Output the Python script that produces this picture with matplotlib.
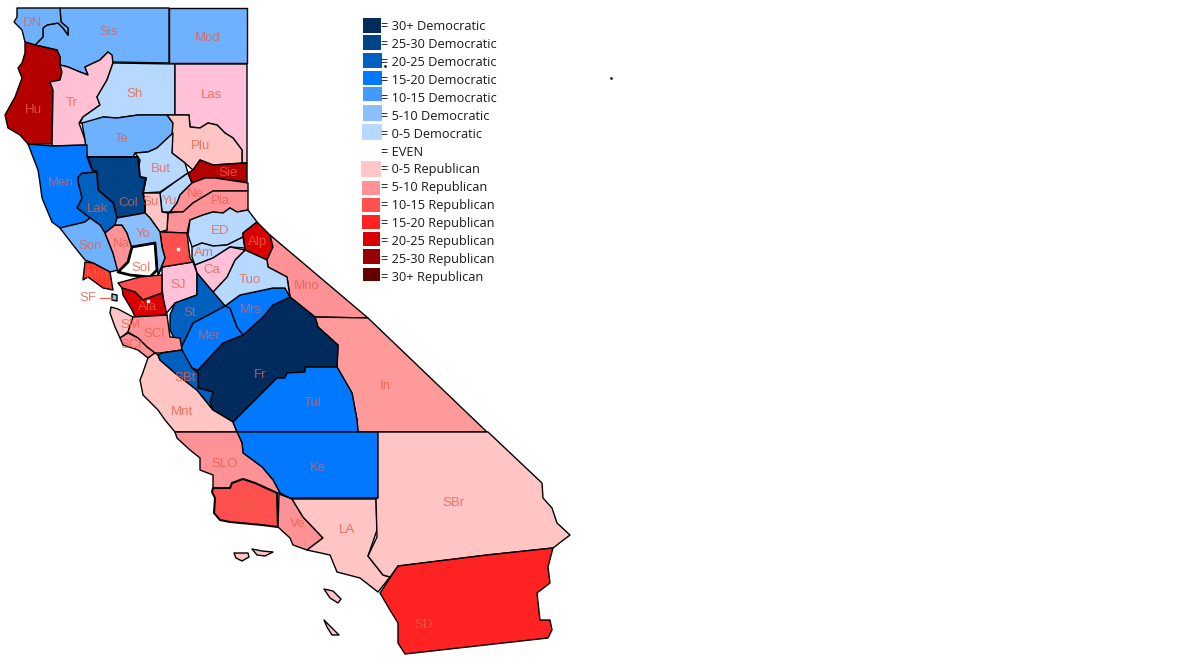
import matplotlib
matplotlib.use("Agg")
import matplotlib.pyplot as plt
from matplotlib.patches import Polygon, Rectangle

LEGEND_LABELS = ["30+ Democratic", "25-30 Democratic", "20-25 Democratic", "15-20 Democratic",
                 "10-15 Democratic", "5-10 Democratic", "0-5 Democratic", "EVEN",
                 "0-5 Republican", "5-10 Republican", "10-15 Republican", "15-20 Republican",
                 "20-25 Republican", "25-30 Republican", "30+ Republican"]
LEGEND_COLORS = ["#002b5c", "#004488", "#0060c0", "#0078ff", "#4499ff", "#8cbfff", "#b8d9ff", "#ffffff",
                 "#ffc8c8", "#ff9296", "#ff5050", "#ff2222", "#d80000", "#960000", "#640000"]
LEGEND_TOPS = [18, 35, 53, 71, 87, 105, 124, None, 161, 181, 198, 215, 232, 249, 268]
LEGEND_LEFTS = [363, 363, 363, 363, 363, 363, 362, None, 361, 362, 362, 362, 363, 363, 363]
LEGEND_RIGHTS = [381, 381, 382, 382, 382, 382, 382, None, 381, 380, 380, 380, 380, 380, 380]
LEGEND_BOTTOMS = [33, 50, 68, 85, 101, 121, 140, None, 177, 195, 212, 229, 246, 264, 281]

# County outlines: (name, shade, outline)
COUNTIES = [
    ("Mod", "#6db1ff", [(169,8),(247,8),(247,63),(169,63)]),
    ("Sis", "#6db1ff", [(60,8),(169,8),(169,63),(113,62),(108,52),(100,60),(85,67),(88,75),(80,72),(68,67),(60,65),(60,57),(57,50),(35,45),(43,37),(43,28),(47,25),(58,23),(63,28),(68,35),(68,28),(61,22)]),
    ("DN", "#6db1ff", [(17,8),(60,8),(61,22),(68,28),(68,35),(63,28),(58,23),(47,25),(43,28),(43,37),(35,45),(25,42),(22,30),(14,22),(17,17)]),
    ("Hu", "#b50000", [(25,42),(35,45),(57,50),(60,57),(60,65),(62,72),(60,80),(50,82),(53,90),(52,144),(28,144),(20,135),(8,128),(5,115),(15,97),(22,78),(18,68),(22,63),(25,53)]),
    ("Tr", "#ffc0d4", [(60,65),(68,67),(80,72),(88,75),(85,67),(100,60),(108,52),(112,55),(113,63),(107,80),(97,97),(100,105),(83,117),(79,123),(87,145),(52,146),(53,90),(50,82),(60,80),(62,72)]),
    ("Sh", "#b8d9ff", [(113,63),(175,64),(175,115),(138,115),(117,118),(103,117),(87,123),(80,123),(83,117),(100,105),(97,97),(107,80)]),
    ("Las", "#ffc0d8", [(175,64),(247,64),(247,163),(242,163),(242,150),(233,138),(225,133),(217,125),(208,123),(200,128),(190,127),(189,115),(175,115)]),
    ("Te", "#6db1ff", [(82,123),(103,117),(117,118),(138,115),(167,115),(173,123),(173,133),(157,148),(148,152),(135,153),(133,157),(87,157),(85,140)]),
    ("Plu", "#ffc4c4", [(167,115),(189,115),(190,127),(200,128),(208,123),(217,125),(225,133),(233,138),(242,150),(242,163),(213,165),(200,160),(193,170),(185,163),(172,153),(172,135),(173,123)]),
    ("But", "#b8d9ff", [(135,153),(148,152),(157,148),(173,133),(172,153),(185,163),(188,173),(175,182),(160,192),(143,193),(146,178),(140,177),(138,173),(140,160)]),
    ("Yu", "#b8d9ff", [(160,193),(175,182),(188,173),(192,183),(180,195),(177,203),(170,212),(162,212)]),
    ("Sie", "#b50000", [(200,160),(213,165),(247,163),(247,182),(215,178),(205,178),(192,183),(188,173),(193,170)]),
    ("Ne", "#ff9296", [(192,183),(205,178),(215,178),(248,183),(248,191),(213,191),(203,197),(193,203),(183,212),(178,212),(170,212),(177,203),(180,195)]),
    ("Pla", "#ff9296", [(248,191),(248,210),(237,212),(230,208),(223,213),(213,212),(203,215),(190,220),(187,233),(160,232),(167,230),(168,213),(178,212),(183,212),(193,203),(203,197),(213,191)]),
    ("ED", "#b8d9ff", [(190,220),(203,215),(213,212),(223,213),(230,208),(237,212),(248,210),(257,222),(243,233),(243,237),(227,245),(213,246),(202,243),(192,247),(188,235)]),
    ("Am", "#b8d9ff", [(192,247),(202,243),(213,246),(227,245),(243,237),(245,248),(230,247),(213,258),(195,265),(192,257)]),
    ("Alp", "#d80000", [(257,222),(270,235),(273,247),(267,260),(245,250),(243,233)]),
    ("Mno", "#ff9296", [(270,235),(368,318),(315,317),(300,305),(290,297),(287,277),(268,267),(267,260),(273,247)]),
    ("In", "#ff9a9a", [(315,317),(368,318),(487,432),(358,432),(357,420),(352,393),(337,367),(338,345),(318,327)]),
    ("Fr", "#002b5c", [(290,297),(300,305),(315,317),(318,327),(338,345),(337,367),(305,367),(305,372),(287,373),(285,378),(277,378),(233,422),(213,410),(210,402),(213,392),(198,388),(198,373),(192,368),(198,370),(223,343),(243,335),(263,317),(273,305)]),
    ("Mer", "#0078ff", [(180,350),(193,323),(225,306),(230,308),(237,327),(243,335),(223,343),(198,370),(192,368)]),
    ("Mrs", "#0078ff", [(225,306),(240,295),(273,288),(285,288),(290,297),(273,305),(263,317),(243,335),(237,327),(230,308)]),
    ("Tuo", "#b8d9ff", [(245,250),(267,260),(268,267),(287,277),(290,297),(285,288),(273,288),(240,295),(225,306),(213,292),(227,277),(235,260)]),
    ("Ca", "#ffc0d8", [(195,265),(213,258),(230,247),(245,250),(235,260),(227,277),(213,292),(197,273)]),
    ("SJ", "#ffc0d8", [(162,267),(193,262),(197,273),(197,295),(175,303),(165,315),(162,287)]),
    ("St", "#0060c0", [(197,273),(213,292),(225,306),(193,323),(180,350),(170,330),(170,315),(175,303),(197,295)]),
    ("Sac", "#ff5050", [(160,232),(187,233),(190,258),(193,262),(162,267),(158,275),(165,258),(162,247)]),
    ("Su", "#ffc4c4", [(143,193),(160,193),(162,212),(168,213),(167,230),(160,232),(150,218),(145,213),(145,203)]),
    ("Col", "#004488", [(88,157),(133,157),(138,157),(140,177),(146,178),(143,193),(145,203),(145,213),(117,218),(113,203),(98,190),(97,175),(97,172),(92,170)]),
    ("Lak", "#0060c0", [(78,177),(82,173),(97,172),(97,175),(98,190),(113,203),(117,218),(115,225),(105,233),(100,225),(90,218),(77,208),(82,198),(78,182)]),
    ("Men", "#0078ff", [(28,144),(52,146),(87,145),(87,157),(92,170),(97,172),(82,173),(78,177),(78,182),(82,198),(77,208),(90,218),(85,222),(60,228),(52,222),(42,198),(40,183),(38,170)]),
    ("Son", "#6db1ff", [(60,228),(85,222),(90,218),(100,225),(105,233),(113,253),(118,270),(110,272),(93,263),(85,260),(73,245)]),
    ("Na", "#ff9296", [(105,233),(115,225),(122,225),(127,233),(132,248),(128,262),(118,272),(113,253)]),
    ("Yo", "#8cbfff", [(115,225),(117,218),(145,213),(150,218),(160,232),(162,247),(165,258),(158,275),(155,243),(132,248),(127,233),(122,225)]),
    ("Sol", "#ffffff", [(132,247),(155,243),(157,270),(150,277),(130,275),(118,272),(128,262)]),
    ("Mrn", "#ff3b30", [(85,262),(93,263),(110,272),(113,290),(103,288),(88,277),(83,280)]),
    ("CC", "#ff5050", [(118,283),(140,277),(162,275),(162,293),(143,300),(135,292),(122,288)]),
    ("Ala", "#d80000", [(122,288),(135,292),(143,300),(162,293),(167,315),(135,317),(132,310),(123,295)]),
    ("SF", "#8cbfff", [(112,294),(117,295),(117,301),(112,300)]),
    ("SM", "#ffc4c4", [(111,307),(118,309),(133,317),(128,332),(120,338),(115,327),(110,313)]),
    ("SCl", "#ff9296", [(133,317),(167,315),(170,337),(180,338),(182,350),(160,353),(155,353),(147,347),(138,338),(128,332)]),
    ("SCr", "#ff9296", [(120,338),(128,333),(138,338),(147,347),(155,353),(148,358),(138,350),(123,345)]),
    ("Mnt", "#ffc4c4", [(148,358),(155,353),(158,355),(160,360),(175,373),(197,390),(213,410),(233,422),(237,432),(175,432),(165,420),(158,410),(143,395),(140,380),(142,375)]),
    ("SBt", "#0060c0", [(158,355),(162,353),(182,350),(192,368),(198,373),(198,388),(213,392),(210,402),(213,410),(197,390),(175,373),(160,360)]),
    ("Tul", "#0078ff", [(337,367),(352,393),(357,420),(358,432),(237,432),(233,422),(277,378),(285,378),(287,373),(305,372),(305,367)]),
    ("Ke", "#0078ff", [(237,432),(378,432),(378,498),(290,498),(280,493),(273,480),(262,467),(243,453),(242,443)]),
    ("SLO", "#ff9296", [(175,432),(237,432),(242,443),(243,453),(262,467),(273,480),(280,493),(277,493),(255,483),(243,479),(232,483),(230,488),(213,488),(213,475),(200,470),(200,458),(190,450),(177,438)]),
    ("SB", "#ff5050", [(213,488),(230,488),(232,483),(243,479),(255,483),(277,493),(278,527),(262,525),(230,522),(220,520),(214,513),(215,498),(212,492)]),
    ("Ve", "#ff9296", [(279,494),(292,499),(303,517),(323,538),(307,550),(293,545),(290,538),(278,527)]),
    ("LA", "#ffc4c4", [(292,499),(376,499),(377,530),(368,556),(383,575),(390,577),(378,592),(360,578),(337,572),(330,555),(307,550),(323,538),(303,517)]),
    ("SBr", "#ffc4c4", [(378,432),(488,432),(542,483),(543,498),(552,508),(557,523),(570,535),(553,548),(487,555),(398,566),(390,577),(383,575),(368,556),(377,537),(376,499),(378,498)]),
    ("SD", "#ff2222", [(398,566),(487,555),(553,548),(548,567),(550,583),(537,593),(540,620),(550,620),(552,630),(548,638),(405,654),(398,643),(398,623),(390,610),(380,593)]),
    ("Isl1", "#ffc4c4", [(234,553),(248,553),(249,557),(242,561),(236,558)]),
    ("Isl2", "#ffc4c4", [(252,549),(262,551),(273,552),(265,556),(257,555)]),
    ("Isl3", "#ffc4c4", [(324,589),(333,591),(341,599),(338,603),(330,598)]),
    ("Isl4", "#ffc4c4", [(324,620),(339,635),(332,635),(327,627)]),
]

LABEL_TEXT = ["DN","Sis","Mod","Hu","Tr","Sh","Las","Te","Plu","Sie","But","Men","Col","Su","Yu","Ne","Pla","Lak","ED","Yo","Son","Na","Alp","Am","Sol","Ca","Tuo","Mno","SJ","Mrn","SF","Ala","St","Mrs","Mer","SM","SCl","SCr","SBt","Fr","In","Tul","Mnt","SLO","Ke","SB","SBr","Ve","LA","SD"]
LABEL_X = [33,109,208,33,72,135,212,122,201,228,161,61,128,151,169,195,220,98,220,143,90,121,258,204,141,212,250,307,178,97,88,148,190,251,209,130,154,132,185,260,385,313,182,225,318,244,453,298,347,424]
LABEL_Y = [23,32,38,110,103,94,95,139,146,173,169,183,203,202,201,194,201,209,231,234,246,244,242,253,268,270,280,286,285,275,298,307,313,310,336,325,334,345,378,375,386,403,412,464,468,506,503,524,530,625]
THICK = {"Sol": 2.0, "SB": 1.5, "Col": 1.4}

fig = plt.figure(figsize=(11.88, 6.68), dpi=100, facecolor="white")
ax = fig.add_axes([0, 0, 1, 1])
ax.set_xlim(0, 1188)
ax.set_ylim(668, 0)
ax.axis("off")

for name, shade, outline in COUNTIES:
    ax.add_patch(Polygon(outline, closed=True, facecolor=shade, edgecolor="black",
                         linewidth=THICK.get(name, 1.0), joinstyle="round", zorder=2))

for txt, x, y in zip(LABEL_TEXT, LABEL_X, LABEL_Y):
    ax.text(x, y, txt, family="Liberation Sans", fontsize=9.5, color="#e8604a", alpha=0.8,
            ha="center", va="center", zorder=4)
ax.plot([100, 112], [298, 298], color="#dd6a55", lw=1, zorder=4)
ax.plot([178, 148], [249, 301], ls="none", marker="s", ms=2, color="white", zorder=5)
ax.plot([611, 385], [78, 66], ls="none", marker="s", ms=0.8, color="black", zorder=5)

for i, (lab, col) in enumerate(zip(LEGEND_LABELS, LEGEND_COLORS)):
    yc = 26 + 18 * i
    if LEGEND_TOPS[i] is not None:
        ax.add_patch(Rectangle((LEGEND_LEFTS[i], LEGEND_TOPS[i]),
                               LEGEND_RIGHTS[i] - LEGEND_LEFTS[i],
                               LEGEND_BOTTOMS[i] - LEGEND_TOPS[i],
                               facecolor=col, edgecolor="none", zorder=3))
    ax.text(381, yc, "= " + lab, family="Open Sans", fontsize=9.15, color="#1a1a1a",
            ha="left", va="center", zorder=4)

fig.savefig("out.png", dpi=100, facecolor="white")
